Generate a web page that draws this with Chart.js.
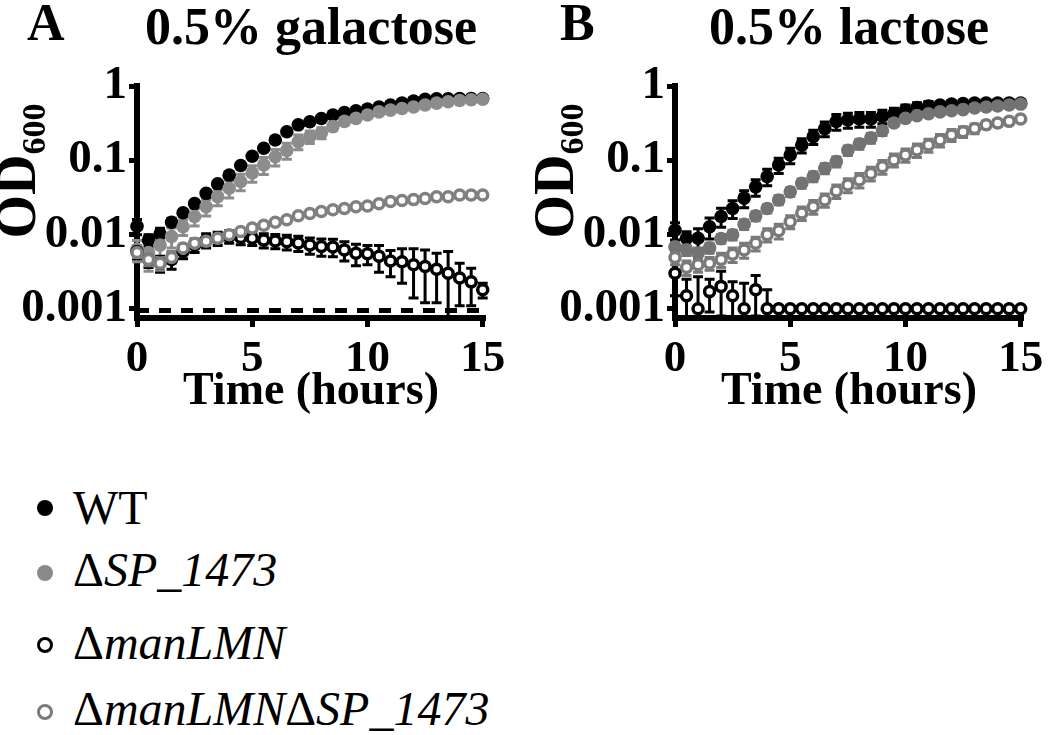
<!DOCTYPE html>
<html>
<head>
<meta charset="utf-8">
<title>OD600 growth curves</title>
<script src="https://cdn.jsdelivr.net/npm/chart.js@4.4.1/dist/chart.umd.min.js"></script>
<style>
  body { margin: 0; background: #fff; }
  #wrap { position: relative; width: 1050px; height: 735px; overflow: hidden; font-family: "Liberation Serif", "DejaVu Serif", serif; color: #000; }
  canvas { position: absolute; top: 0; }
  .panel { position: absolute; font-weight: bold; font-size: 52px; line-height: 52px; }
  .ylab { position: absolute; font-weight: bold; font-size: 56px; line-height: 56px; white-space: nowrap;
          transform: translate(-50%, -50%) rotate(-90deg); }
  .ylab sub { font-size: 34px; vertical-align: -10px; }
  .row { position: absolute; left: 73px; height: 50px; line-height: 50px; font-size: 48px; white-space: nowrap; }
  .row i span { font-style: normal; }
  .dot { position: absolute; box-sizing: border-box; width: 16px; height: 16px; border-radius: 50%; }
</style>
</head>
<body>
<div id="wrap">
  <canvas id="chartA" width="525" height="430" style="left:0px"></canvas>
  <canvas id="chartB" width="512" height="430" style="left:538px"></canvas>

  <div class="panel" style="left:27px; top:-3px;">A</div>
  <div class="panel" style="left:560px; top:-3px;">B</div>
  <div class="ylab" style="left:25px; top:171px;">OD<sub>600</sub></div>
  <div class="ylab" style="left:563px; top:171px;">OD<sub>600</sub></div>

  <div class="dot" style="left:37px; top:500px; background:#000;"></div>
  <div class="row" style="top:483px;">WT</div>
  <div class="dot" style="left:37px; top:565px; background:#8a8a8a;"></div>
  <div class="row" style="top:545px;"><i><span>&Delta;</span>SP_1473</i></div>
  <div class="dot" style="left:37px; top:637px; border:3.5px solid #000; background:#fff;"></div>
  <div class="row" style="top:618px;"><i><span>&Delta;</span>manLMN</i></div>
  <div class="dot" style="left:37px; top:704px; border:3.5px solid #7a7a7a; background:#fff;"></div>
  <div class="row" style="top:684px;"><i><span>&Delta;</span>manLMN<span>&Delta;</span>SP_1473</i></div>
</div>

<script>
// time points (hours)
const time = [0, 0.5, 1, 1.5, 2, 2.5, 3, 3.5, 4, 4.5, 5, 5.5, 6, 6.5, 7, 7.5,
  8, 8.5, 9, 9.5, 10, 10.5, 11, 11.5, 12, 12.5, 13, 13.5, 14, 14.5, 15];

// Panel A - 0.5% galactose
const galWT = [0.0129, 0.0084, 0.0101, 0.0146, 0.0196, 0.026, 0.0358, 0.048, 0.063, 0.085, 0.113,
  0.145, 0.187, 0.242, 0.30, 0.33, 0.365, 0.407, 0.44, 0.465, 0.489, 0.522, 0.554, 0.588,
  0.628, 0.662, 0.67, 0.67, 0.678, 0.678, 0.68];
const galWTsd = [0.003, 0.0015, 0.002, 0.002, 0.002, 0.002, 0.003, 0.003, 0.004, 0.005, 0.006,
  0.008, 0.01, 0.012, 0.015, 0.015, 0.015, 0.015, 0.015, 0.015, 0.015, 0.015, 0.015, 0.015,
  0.015, 0.015, 0.015, 0.015, 0.015, 0.015, 0.015];
const galSP = [0.0063, 0.0057, 0.0072, 0.0094, 0.0127, 0.0175, 0.0237, 0.0323, 0.042, 0.0518, 0.0675,
  0.0865, 0.1115, 0.136, 0.178, 0.208, 0.234, 0.284, 0.334, 0.366, 0.407, 0.448, 0.473, 0.497,
  0.522, 0.554, 0.588, 0.613, 0.637, 0.654, 0.662];
const galSPsd = [0.002, 0.0025, 0.0028, 0.0028, 0.003, 0.0045, 0.006, 0.008, 0.011, 0.013, 0.017,
  0.022, 0.028, 0.033, 0.04, 0.04, 0.04, 0.035, 0.03, 0.025, 0.02, 0.02, 0.02, 0.02,
  0.02, 0.02, 0.02, 0.02, 0.02, 0.02, 0.02];
const galMan = [0.0059, 0.0046, 0.0041, 0.0046, 0.0059, 0.0072, 0.0084, 0.0089, 0.0094, 0.0091, 0.0089,
  0.0084, 0.0082, 0.008, 0.0077, 0.0072, 0.0069, 0.0068, 0.0062, 0.0056, 0.0055, 0.0051, 0.0044, 0.0043,
  0.0039, 0.0037, 0.0034, 0.003, 0.0026, 0.0023, 0.0018];
const galMansd = [0.0012, 0.001, 0.001, 0.0012, 0.0012, 0.0015, 0.0018, 0.0018, 0.0018, 0.0018, 0.0018,
  0.0018, 0.0018, 0.0018, 0.0018, 0.0018, 0.0018, 0.0018, 0.0018, 0.0018, 0.0016, 0.002, 0.0017, 0.0021,
  0.0025, 0.0025, 0.0022, 0.0029, 0.0015, 0.0012, 0.0004];
const galManSP = [0.0057, 0.0046, 0.0041, 0.0049, 0.0066, 0.0076, 0.0081, 0.0089, 0.0099, 0.011, 0.0122,
  0.0133, 0.0146, 0.0158, 0.0179, 0.0192, 0.0204, 0.0215, 0.0224, 0.0237, 0.0242, 0.026, 0.0278, 0.0287,
  0.0295, 0.0305, 0.0322, 0.0322, 0.034, 0.034, 0.034];
const galManSPsd = [0.0008, 0.0008, 0.0008, 0.0008, 0.0008, 0.0008, 0.0008, 0.0008, 0.0009, 0.001, 0.001,
  0.001, 0.0012, 0.0012, 0.0014, 0.0015, 0.0015, 0.0016, 0.0017, 0.0018, 0.0018, 0.002, 0.002, 0.002,
  0.002, 0.002, 0.002, 0.002, 0.002, 0.002, 0.002];

// Panel B - 0.5% lactose
const lacWT = [0.0114, 0.0089, 0.0089, 0.0127, 0.0175, 0.0224, 0.0309, 0.0438, 0.0604, 0.0865, 0.1176,
  0.16, 0.208, 0.267, 0.334, 0.35, 0.359, 0.359, 0.391, 0.423, 0.473, 0.514, 0.538, 0.554,
  0.571, 0.58, 0.588, 0.588, 0.588, 0.588, 0.588];
const lacWTsd = [0.003, 0.002, 0.003, 0.004, 0.005, 0.006, 0.008, 0.011, 0.015, 0.02, 0.028,
  0.035, 0.045, 0.06, 0.08, 0.08, 0.08, 0.08, 0.08, 0.08, 0.08, 0.08, 0.08, 0.04,
  0.04, 0.04, 0.04, 0.04, 0.04, 0.04, 0.04];
const lacSP = [0.0068, 0.0062, 0.0056, 0.0066, 0.0088, 0.0099, 0.0137, 0.0178, 0.0224, 0.0292, 0.0375,
  0.049, 0.0604, 0.078, 0.096, 0.136, 0.166, 0.2, 0.25, 0.317, 0.366, 0.399, 0.423, 0.448,
  0.465, 0.481, 0.505, 0.522, 0.538, 0.554, 0.571];
const lacSPsd = [0.001, 0.001, 0.001, 0.001, 0.0012, 0.0015, 0.002, 0.0025, 0.003, 0.004, 0.005,
  0.007, 0.009, 0.012, 0.015, 0.02, 0.025, 0.03, 0.035, 0.03, 0.03, 0.025, 0.02, 0.02,
  0.02, 0.02, 0.02, 0.02, 0.02, 0.02, 0.02];
const lacMan = [0.003, 0.0015, 0.001, 0.0017, 0.002, 0.0015, 0.001, 0.0018, 0.001, 0.001, 0.001,
  0.001, 0.001, 0.001, 0.001, 0.001, 0.001, 0.001, 0.001, 0.001, 0.001, 0.001, 0.001, 0.001,
  0.001, 0.001, 0.001, 0.001, 0.001, 0.001, 0.001];
const lacMansd = [0.0015, 0.001, 0.0017, 0.0008, 0.0012, 0.0008, 0.0012, 0.001, 0.0008, 0, 0,
  0, 0, 0, 0, 0, 0, 0, 0, 0, 0, 0, 0, 0,
  0, 0, 0, 0, 0, 0, 0];
const lacManSP = [0.0049, 0.0036, 0.0039, 0.0041, 0.0046, 0.0054, 0.0062, 0.0076, 0.0099, 0.0112, 0.0149,
  0.0194, 0.0237, 0.0292, 0.0385, 0.0465, 0.0542, 0.0665, 0.082, 0.101, 0.1177, 0.137, 0.16, 0.187,
  0.219, 0.242, 0.267, 0.3, 0.317, 0.334, 0.359];
const lacManSPsd = [0.001, 0.0008, 0.0008, 0.0008, 0.001, 0.0012, 0.0014, 0.0016, 0.002, 0.0025, 0.003,
  0.004, 0.005, 0.006, 0.008, 0.01, 0.012, 0.014, 0.017, 0.02, 0.024, 0.028, 0.032, 0.036,
  0.04, 0.04, 0.04, 0.035, 0.03, 0.025, 0.02];

// dashed detection limit in panel A
const detectionLimit = [0.00095, 0.00095];
const detectionTimes = [0, 15];

const yTicks = [0.001, 0.01, 0.1, 1];
const xTicks = [0, 5, 10, 15];
const FONT = '"Liberation Serif", "DejaVu Serif", serif';

// error bars drawn with the y scale, under the symbols
const errorBars = {
  id: 'errorBars',
  beforeDatasetsDraw(chart) {
    const ctx = chart.ctx;
    const ys = chart.scales.y;
    chart.data.datasets.forEach((ds, i) => {
      if (!ds.errors) return;
      const meta = chart.getDatasetMeta(i);
      ctx.save();
      ctx.strokeStyle = ds.errorColor;
      ctx.lineWidth = 3;
      meta.data.forEach((pt, j) => {
        const v = ds.data[j].y;
        const e = ds.errors[j];
        if (!e) return;
        const top = ys.getPixelForValue(v + e);
        const low = v - e > ys.min ? v - e : ys.min;
        const bot = ys.getPixelForValue(low);
        ctx.beginPath();
        ctx.moveTo(pt.x, top);
        ctx.lineTo(pt.x, bot);
        ctx.moveTo(pt.x - 5, top);
        ctx.lineTo(pt.x + 5, top);
        if (v - e > ys.min) {
          ctx.moveTo(pt.x - 5, bot);
          ctx.lineTo(pt.x + 5, bot);
        }
        ctx.stroke();
      });
      ctx.restore();
    });
  }
};

function series(label, vals, errs, color, open, order) {
  return {
    label: label,
    data: time.map((t, i) => ({ x: t, y: vals[i] })),
    errors: errs,
    errorColor: color,
    order: order,
    clip: false,
    showLine: false,
    pointRadius: open ? 5 : 6.8,
    pointHoverRadius: open ? 5 : 6.8,
    pointBorderWidth: open ? 3.5 : 0,
    pointBackgroundColor: open ? '#ffffff' : color,
    pointBorderColor: color
  };
}

function makeScales() {
  return {
    x: {
      type: 'linear', min: 0, max: 15.1,
      afterBuildTicks: s => { s.ticks = xTicks.map(v => ({ value: v })); },
      afterFit: s => { s.height = 112; },
      grid: { drawOnChartArea: false, drawTicks: true, tickLength: 9, tickWidth: 5, tickColor: '#000' },
      border: { display: true, color: '#000', width: 6 },
      ticks: { color: '#000', padding: 5, maxRotation: 0, font: { family: FONT, size: 45, weight: 'bold' } },
      title: { display: true, text: 'Time (hours)', color: '#000',
        font: { family: FONT, size: 46, weight: 'bold' }, padding: { top: 0, bottom: 10 } }
    },
    y: {
      type: 'logarithmic', min: 0.00075, max: 1,
      afterBuildTicks: s => { s.ticks = yTicks.map(v => ({ value: v })); },
      afterFit: s => { s.width = 137; },
      grid: { drawOnChartArea: false, drawTicks: true, tickLength: 8, tickWidth: 5, tickColor: '#000' },
      border: { display: true, color: '#000', width: 6 },
      ticks: { color: '#000', padding: 2, font: { family: FONT, size: 47, weight: 'bold' },
        callback: v => String(v) }
    }
  };
}

function makeChart(id, title, sets, rightPad) {
  return new Chart(document.getElementById(id), {
    type: 'scatter',
    data: { datasets: sets },
    options: {
      responsive: false,
      animation: false,
      layout: { padding: { left: 0, right: rightPad, top: 0, bottom: 0 } },
      scales: makeScales(),
      plugins: {
        legend: { display: false },
        tooltip: { enabled: false },
        title: { display: true, text: title, color: '#000', fullSize: false,
          font: { family: FONT, size: 52, weight: 'bold', lineHeight: 1 },
          padding: { top: 5, bottom: 29 } }
      }
    },
    plugins: [errorBars]
  });
}

makeChart('chartA', '0.5% galactose', [
  {
    label: 'limit',
    type: 'line',
    data: detectionTimes.map((t, i) => ({ x: t, y: detectionLimit[i] })),
    showLine: true, borderColor: '#000', borderWidth: 5, borderDash: [12, 10],
    pointRadius: 0, order: 10, clip: false
  },
  series('WT', galWT, galWTsd, '#000000', false, 4),
  series('SP_1473', galSP, galSPsd, '#8c8c8c', false, 3),
  series('manLMN', galMan, galMansd, '#000000', true, 2),
  series('manLMN SP_1473', galManSP, galManSPsd, '#808080', true, 1)
], 40);

makeChart('chartB', '0.5% lactose', [
  series('WT', lacWT, lacWTsd, '#000000', false, 4),
  series('SP_1473', lacSP, lacSPsd, '#737373', false, 3),
  series('manLMN', lacMan, lacMansd, '#000000', true, 1),
  series('manLMN SP_1473', lacManSP, lacManSPsd, '#7a7a7a', true, 2)
], 27);
</script>
</body>
</html>
